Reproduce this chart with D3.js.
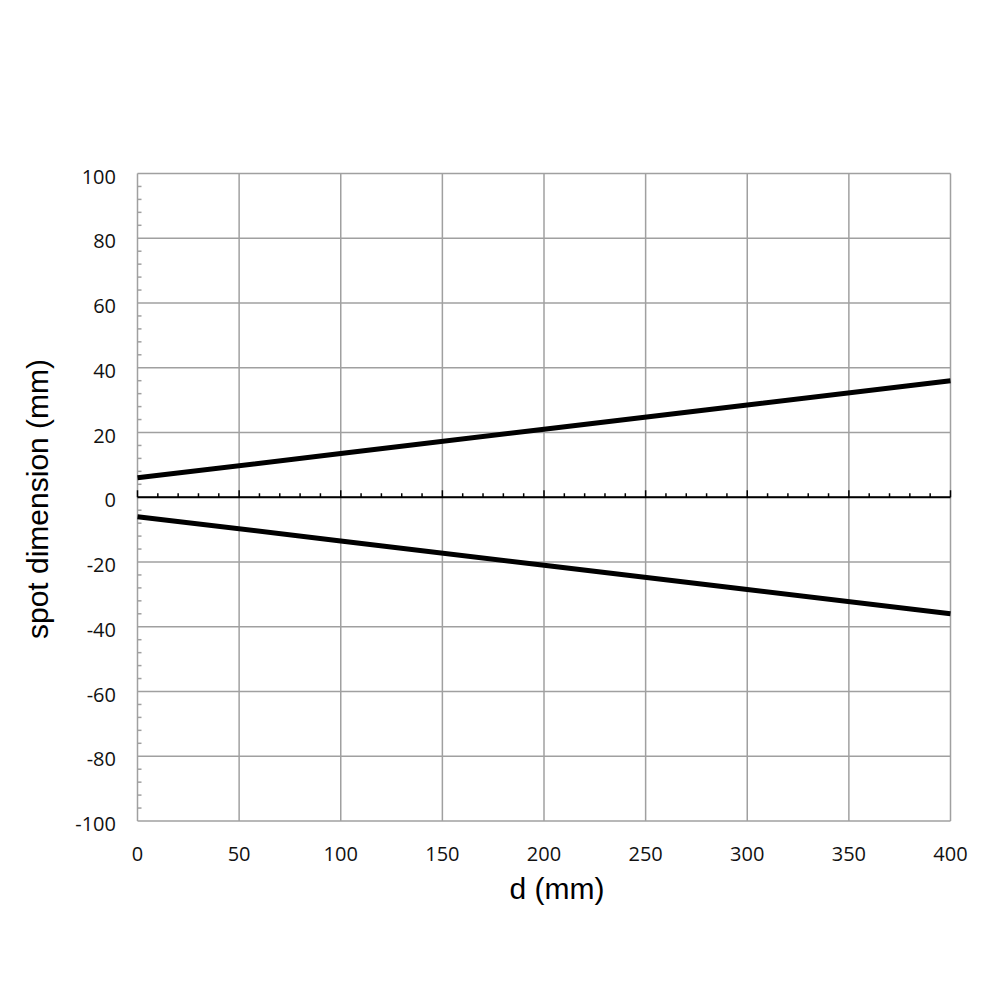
<!DOCTYPE html>
<html lang="en">
<head>
    <meta charset="UTF-8">
    <title>spot dimension</title>
    <script src="https://cdn.jsdelivr.net/npm/d3@7"></script>
    <style>
        body { margin: 0; background: #fff; }
        svg { width: 1000px; height: 1000px; display: block; }
        .grid line { stroke: #a0a0a0; stroke-width: 1.5px; }
        .tick-label { font-family: 'Open Sans', sans-serif; font-size: 20px; fill: #111; }
        .title { font-family: 'Liberation Sans', Arial, sans-serif; font-size: 30px; fill: #000; }
        .beam { fill: none; stroke: #000; stroke-width: 5px; }
    </style>
</head>
<body>
<svg></svg>

<script>

    // values
    var distance = [0, 100, 200, 300, 400];
    var upperEdge = [6, 13.5, 21, 28.5, 36];
    var lowerEdge = [-6, -13.5, -21, -28.5, -36];

    var xTicks = [0, 50, 100, 150, 200, 250, 300, 350, 400];
    var yTicks = [100, 80, 60, 40, 20, 0, -20, -40, -60, -80, -100];

    var plotLeft = 137.5, plotRight = 950.5, plotTop = 173.5, plotBottom = 821;

    var svg = d3.select('svg');

    var x = d3.scaleLinear().domain([0, 400]).range([plotLeft, plotRight]);
    var y = d3.scaleLinear().domain([-100, 100]).range([plotBottom, plotTop]);

    // grid
    var grid = svg.append('g').attr('class', 'grid');
    grid.selectAll('line.gx')
        .data(xTicks)
        .enter()
        .append('line')
        .attr('class', 'gx')
        .attr('x1', function (d) { return x(d); })
        .attr('x2', function (d) { return x(d); })
        .attr('y1', y(100))
        .attr('y2', y(-100));
    grid.selectAll('line.gy')
        .data(yTicks)
        .enter()
        .append('line')
        .attr('class', 'gy')
        .attr('x1', x(0))
        .attr('x2', x(400))
        .attr('y1', function (d) { return y(d); })
        .attr('y2', function (d) { return y(d); });

    // minor ticks on the y axis, every 4 mm, pointing inward
    var yMinor = d3.range(-100, 101, 4).filter(function (d) { return d % 20 !== 0; });
    grid.selectAll('line.my')
        .data(yMinor)
        .enter()
        .append('line')
        .attr('class', 'my')
        .attr('x1', x(0))
        .attr('x2', x(0) + 4)
        .attr('y1', function (d) { return y(d); })
        .attr('y2', function (d) { return y(d); });

    // black zero axis with ticks
    var zero = svg.append('g').attr('transform', 'translate(0,' + y(0) + ')');
    zero.append('line')
        .attr('x1', x(0)).attr('x2', x(400))
        .attr('stroke', '#000').attr('stroke-width', 2);
    zero.selectAll('line.t')
        .data(d3.range(0, 401, 10))
        .enter()
        .append('line')
        .attr('class', 't')
        .attr('stroke', '#000')
        .attr('stroke-width', 1.5)
        .attr('x1', function (d) { return x(d); })
        .attr('x2', function (d) { return x(d); })
        .attr('y1', 0)
        .attr('y2', function (d) { return d % 50 === 0 ? -7 : -4; });

    // beam edges
    var line = d3.line()
        .x(function (d) { return x(d[0]); })
        .y(function (d) { return y(d[1]); });

    svg.append('path')
        .attr('class', 'beam')
        .attr('d', line(d3.zip(distance, upperEdge)));
    svg.append('path')
        .attr('class', 'beam')
        .attr('d', line(d3.zip(distance, lowerEdge)));

    // tick labels
    svg.selectAll('text.xl')
        .data(xTicks)
        .enter()
        .append('text')
        .attr('class', 'tick-label xl')
        .attr('text-anchor', 'middle')
        .attr('x', function (d) { return x(d); })
        .attr('y', 861)
        .text(function (d) { return d; });

    svg.selectAll('text.yl')
        .data(yTicks)
        .enter()
        .append('text')
        .attr('class', 'tick-label yl')
        .attr('text-anchor', 'end')
        .attr('x', 116)
        .attr('y', function (d) { return y(d) + 10; })
        .text(function (d) { return d; });

    // axis titles
    svg.append('text')
        .attr('class', 'title')
        .attr('text-anchor', 'middle')
        .attr('x', 557)
        .attr('y', 899)
        .text('d (mm)');

    svg.append('text')
        .attr('class', 'title')
        .attr('text-anchor', 'middle')
        .attr('transform', 'translate(48,499) rotate(-90)')
        .text('spot dimension (mm)');

</script>

</body>
</html>
